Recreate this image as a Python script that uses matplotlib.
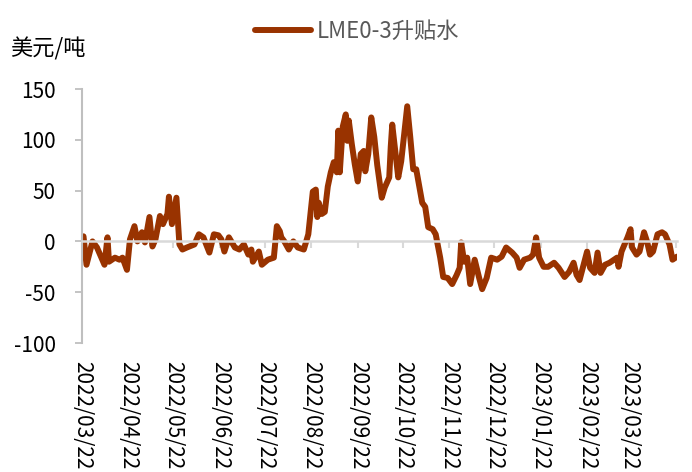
import pandas as pd
import matplotlib
matplotlib.use('Agg')
import matplotlib.pyplot as plt
import matplotlib.dates as mdates

plt.rcParams['font.family'] = ['Noto Sans CJK SC', 'DejaVu Sans']
plt.rcParams['axes.unicode_minus'] = False

# LME 0-3 spread, USD/t
dates = [
    '2022-03-23', '2022-03-25', '2022-03-29', '2022-04-01', '2022-04-06', '2022-04-08', '2022-04-09',
    '2022-04-13', '2022-04-16', '2022-04-18', '2022-04-21', '2022-04-23', '2022-04-26', '2022-04-28',
    '2022-05-01', '2022-05-03', '2022-05-06', '2022-05-08', '2022-05-10', '2022-05-13', '2022-05-15',
    '2022-05-18', '2022-05-19', '2022-05-21', '2022-05-24', '2022-05-26', '2022-05-28', '2022-05-31',
    '2022-06-05', '2022-06-08', '2022-06-11', '2022-06-15', '2022-06-18', '2022-06-21', '2022-06-23',
    '2022-06-25', '2022-06-28', '2022-07-02', '2022-07-05', '2022-07-08', '2022-07-11', '2022-07-13',
    '2022-07-14', '2022-07-18', '2022-07-20', '2022-07-24', '2022-07-28', '2022-07-30', '2022-08-01',
    '2022-08-02', '2022-08-04', '2022-08-07', '2022-08-10', '2022-08-13', '2022-08-17', '2022-08-20',
    '2022-08-23', '2022-08-25', '2022-08-26', '2022-08-27', '2022-08-29', '2022-08-31', '2022-09-02',
    '2022-09-04', '2022-09-06', '2022-09-08', '2022-09-09', '2022-09-10', '2022-09-12', '2022-09-14',
    '2022-09-15', '2022-09-16', '2022-09-18', '2022-09-20', '2022-09-22', '2022-09-24', '2022-09-26',
    '2022-09-27', '2022-09-29', '2022-10-01', '2022-10-03', '2022-10-05', '2022-10-08', '2022-10-10',
    '2022-10-13', '2022-10-14', '2022-10-15', '2022-10-17', '2022-10-19', '2022-10-21', '2022-10-23',
    '2022-10-25', '2022-10-27', '2022-10-29', '2022-10-31', '2022-11-04', '2022-11-06', '2022-11-08',
    '2022-11-11', '2022-11-13', '2022-11-16', '2022-11-18', '2022-11-21', '2022-11-22', '2022-11-24',
    '2022-11-27', '2022-11-29', '2022-11-30', '2022-12-02', '2022-12-04', '2022-12-06', '2022-12-09',
    '2022-12-12', '2022-12-14', '2022-12-17', '2022-12-20', '2022-12-24', '2022-12-27', '2022-12-30',
    '2023-01-03', '2023-01-06', '2023-01-08', '2023-01-11', '2023-01-15', '2023-01-17', '2023-01-19',
    '2023-01-21', '2023-01-24', '2023-01-27', '2023-01-31', '2023-02-03', '2023-02-07', '2023-02-10',
    '2023-02-13', '2023-02-15', '2023-02-17', '2023-02-22', '2023-02-24', '2023-02-27', '2023-03-01',
    '2023-03-03', '2023-03-06', '2023-03-09', '2023-03-12', '2023-03-14', '2023-03-15', '2023-03-17',
    '2023-03-21', '2023-03-23', '2023-03-24', '2023-03-27', '2023-03-29', '2023-04-01', '2023-04-03',
    '2023-04-05', '2023-04-07', '2023-04-10', '2023-04-13', '2023-04-15', '2023-04-18', '2023-04-20',
    '2023-04-22', '2023-04-23',
]
spread = [
    5, -23, 0, -6, -23, 4, -20,
    -16, -18, -16, -28, 2, 15, 0,
    9, -1, 24, -5, 2, 25, 17,
    27, 44, 17, 43, -3, -8, -6,
    -3, 7, 4, -11, 7, 6, 2,
    -10, 4, -6, -8, -3, -13, -8,
    -20, -10, -23, -18, -16, 15, 10,
    4, 0, -8, 0, -6, -8, 7,
    49, 51, 24, 38, 27, 29, 54,
    68, 78, 68, 109, 68, 113, 125,
    99, 119, 96, 76, 59, 86, 89,
    69, 86, 122, 103, 75, 43, 53,
    63, 93, 115, 89, 63, 79, 106,
    133, 103, 71, 71, 38, 34, 14,
    12, 7, -16, -35, -36, -38, -42,
    -33, -26, -1, -20, -16, -42, -18,
    -36, -47, -36, -16, -18, -15, -6,
    -11, -16, -26, -18, -16, -13, 4,
    -16, -25, -25, -21, -26, -35, -30,
    -21, -33, -38, -10, -26, -31, -11,
    -31, -23, -21, -18, -16, -25, -10,
    4, 12, -6, -13, -10, 9, 0,
    -13, -10, 7, 9, 7, -3, -18,
    -16, -15,
]
tick_dates = ['2022-03-22', '2022-04-22', '2022-05-22', '2022-06-22', '2022-07-22', '2022-08-22',
              '2022-09-22', '2022-10-22', '2022-11-22', '2022-12-22', '2023-01-22', '2023-02-22',
              '2023-03-22', '2023-04-22']
yticks = [-100, -50, 0, 50, 100, 150]

x = mdates.date2num(pd.to_datetime(dates))
xt = mdates.date2num(pd.to_datetime(tick_dates))
xlabels = [d.replace('-', '/') for d in tick_dates[:-1]] + ['']

linecolor = '#993300'
gridgray = '#d9d9d9'

fig = plt.figure(figsize=(6.92, 4.72), dpi=100)
ax = fig.add_axes([82 / 692, 1 - 343 / 472, (677 - 82) / 692, (343 - 89) / 472])

ax.plot(x, spread, color=linecolor, linewidth=4.3, solid_joinstyle='round',
        solid_capstyle='round', label='LME0-3升贴水')

ax.set_xlim(mdates.date2num(pd.Timestamp('2022-03-22')), mdates.date2num(pd.Timestamp('2023-04-23')))
ax.set_ylim(-100, 150)
ax.set_yticks(yticks)
ax.set_yticklabels([str(v) for v in yticks])

for s in ['top', 'right']:
    ax.spines[s].set_visible(False)
ax.spines['left'].set_color('#bfbfbf')
ax.spines['left'].set_linewidth(1.5)
ax.spines['bottom'].set_position(('data', 0))
ax.spines['bottom'].set_color(gridgray)
ax.spines['bottom'].set_linewidth(1.8)
ax.set_zorder(1)

ax.tick_params(axis='y', direction='out', length=5, width=1.3, color='#bfbfbf',
               labelsize=15, pad=14, labelcolor='black')
ax.set_xticks(xt)
ax.tick_params(axis='x', direction='out', length=5, width=1.5, color=gridgray,
               labelbottom=False)

# date labels sit at the bottom of the plot, not on the zero line
sec = ax.secondary_xaxis(0.0)
sec.set_xticks(xt)
sec.set_xticklabels(xlabels, rotation=-90, ha='center', va='top', fontsize=15)
sec.tick_params(length=0, pad=13)
sec.spines['bottom'].set_visible(False)

fig.text(10 / 692, 1 - 49 / 472, '美元/吨', fontsize=16, va='center', ha='left')

fig.legend(loc='center', bbox_to_anchor=(357 / 692, 1 - 31 / 472), frameon=False,
           fontsize=16, handlelength=2.5, handletextpad=0.25, labelcolor='#595959')

fig.savefig('out.png', dpi=100)
